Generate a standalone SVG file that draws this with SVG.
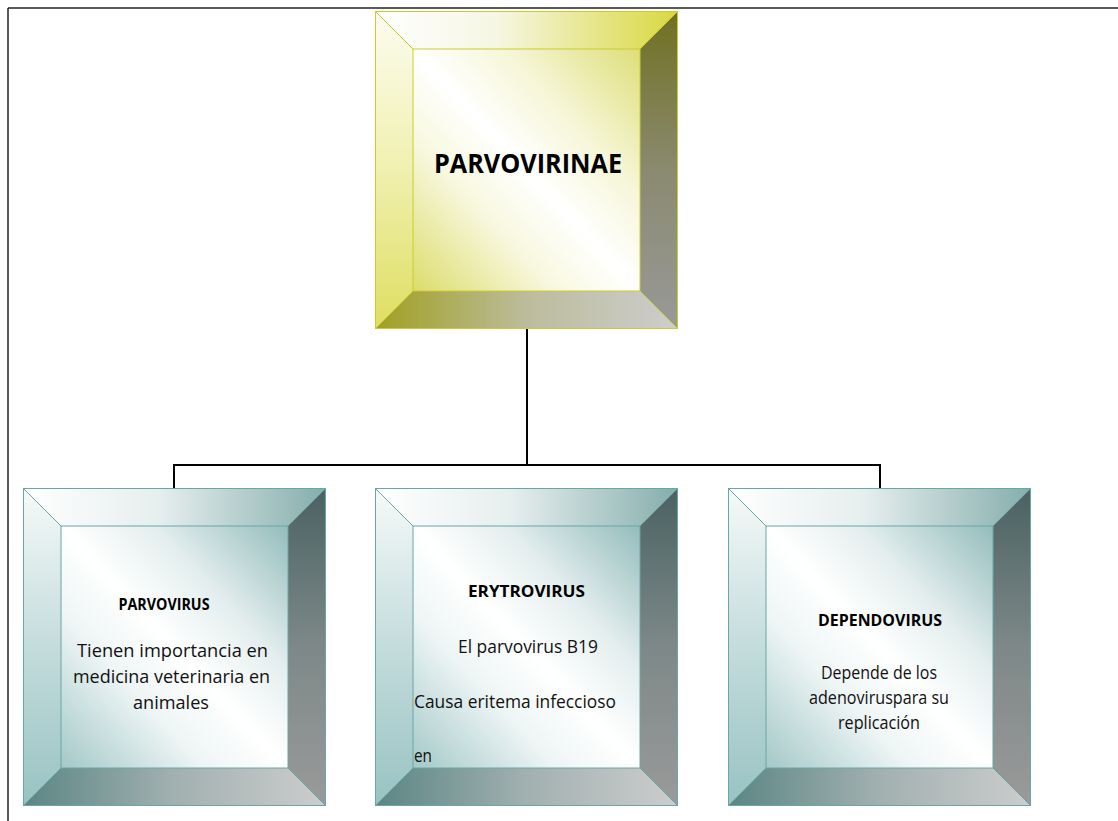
<svg xmlns="http://www.w3.org/2000/svg" xmlns:xlink="http://www.w3.org/1999/xlink" width="1118" height="821" viewBox="0 0 1118 821">
<style>
.title{font-family:"Open Sans","DejaVu Sans",sans-serif;font-weight:bold;fill:#000;text-anchor:middle}
.body{font-family:"Open Sans","DejaVu Sans",sans-serif;font-size:18px;fill:#111;text-anchor:middle}
.bodyL{font-family:"Open Sans","DejaVu Sans",sans-serif;font-size:18px;fill:#111}
.conn{stroke:#000;stroke-width:2;fill:none}
.frame{stroke:#222;stroke-width:1.5;fill:none}
.edgeT{stroke:#6aa6a6;stroke-width:1;fill:none}
.edgeY{stroke:#cccc30;stroke-width:1;fill:none}
</style>
<defs>
  <linearGradient id="gTopT" x1="0" y1="0" x2="1" y2="0"><stop offset="0" stop-color="#ffffff"/><stop offset="0.45" stop-color="#e6eeee"/><stop offset="1" stop-color="#84aeac"/></linearGradient>
  <linearGradient id="gLeftT" x1="0" y1="0" x2="0" y2="1"><stop offset="0" stop-color="#f6f9f9"/><stop offset="0.5" stop-color="#c4dcdc"/><stop offset="1" stop-color="#98c2c2"/></linearGradient>
  <linearGradient id="gRightT" x1="0" y1="0" x2="0" y2="1"><stop offset="0" stop-color="#4a6262"/><stop offset="0.5" stop-color="#7e8888"/><stop offset="1" stop-color="#9a9a9a"/></linearGradient>
  <linearGradient id="gBottomT" x1="0" y1="0" x2="1" y2="0"><stop offset="0" stop-color="#5a8684"/><stop offset="0.5" stop-color="#a2b0b0"/><stop offset="1" stop-color="#cdcdcd"/></linearGradient>
  <linearGradient id="gInnerT" x1="1" y1="0" x2="0" y2="1"><stop offset="0" stop-color="#94bcbc"/><stop offset="0.3" stop-color="#e4eeee"/><stop offset="0.5" stop-color="#ffffff"/><stop offset="0.68" stop-color="#eef5f5"/><stop offset="1" stop-color="#a4c8c8"/></linearGradient>

  <linearGradient id="gTopY" x1="0" y1="0" x2="1" y2="0"><stop offset="0" stop-color="#ffffff"/><stop offset="0.4" stop-color="#f6f6e4"/><stop offset="1" stop-color="#d8d840"/></linearGradient>
  <linearGradient id="gLeftY" x1="0" y1="0" x2="0" y2="1"><stop offset="0" stop-color="#fcfcf0"/><stop offset="0.5" stop-color="#f0f0b0"/><stop offset="1" stop-color="#dede60"/></linearGradient>
  <linearGradient id="gRightY" x1="0" y1="0" x2="0" y2="1"><stop offset="0" stop-color="#707020"/><stop offset="0.5" stop-color="#8a8a70"/><stop offset="1" stop-color="#999999"/></linearGradient>
  <linearGradient id="gBottomY" x1="0" y1="0" x2="1" y2="0"><stop offset="0" stop-color="#a0a020"/><stop offset="0.5" stop-color="#bcbc9c"/><stop offset="1" stop-color="#cdcdcd"/></linearGradient>
  <linearGradient id="gInnerY" x1="1" y1="0" x2="0" y2="1"><stop offset="0" stop-color="#dede78"/><stop offset="0.3" stop-color="#f6f6d8"/><stop offset="0.5" stop-color="#ffffff"/><stop offset="0.68" stop-color="#f8f8e0"/><stop offset="1" stop-color="#dcdc6c"/></linearGradient>

  <g id="bevel-teal">
    <polygon points="0,0 303,0 265,38 38,38" fill="url(#gTopT)"/>
    <polygon points="0,0 38,38 38,280 0,318" fill="url(#gLeftT)"/>
    <polygon points="303,0 303,318 265,280 265,38" fill="url(#gRightT)"/>
    <polygon points="0,318 38,280 265,280 303,318" fill="url(#gBottomT)"/>
    <rect x="38" y="38" width="227" height="242" fill="url(#gInnerT)"/>
    <rect x="38" y="38" width="227" height="242" class="edgeT"/>
    <path d="M0,0 L38,38 M303,0 L265,38 M0,318 L38,280 M303,318 L265,280" class="edgeT"/>
    <rect x="0.5" y="0.5" width="302" height="317" class="edgeT"/>
  </g>
  <g id="bevel-yellow">
    <polygon points="0,0 303,0 265,38 38,38" fill="url(#gTopY)"/>
    <polygon points="0,0 38,38 38,280 0,318" fill="url(#gLeftY)"/>
    <polygon points="303,0 303,318 265,280 265,38" fill="url(#gRightY)"/>
    <polygon points="0,318 38,280 265,280 303,318" fill="url(#gBottomY)"/>
    <rect x="38" y="38" width="227" height="242" fill="url(#gInnerY)"/>
    <rect x="38" y="38" width="227" height="242" class="edgeY"/>
    <path d="M0,0 L38,38 M303,0 L265,38 M0,318 L38,280 M303,318 L265,280" class="edgeY"/>
    <rect x="0.5" y="0.5" width="302" height="317" class="edgeY"/>
  </g>
</defs>

<rect x="0" y="0" width="1118" height="821" fill="#ffffff"/>

<g id="page-frame">
  <line x1="8" y1="8" x2="1118" y2="8" class="frame"/>
  <line x1="8" y1="8" x2="8" y2="821" class="frame" stroke="#555"/>
</g>

<g id="connectors">
  <line x1="527" y1="329" x2="527" y2="465" class="conn"/>
  <polyline points="174,488 174,465 880,465 880,488" class="conn"/>
</g>

<g id="node-parvovirinae">
  <use href="#bevel-yellow" x="375" y="11"/>
  <text x="528" y="173" class="title" font-size="26" textLength="188" lengthAdjust="spacingAndGlyphs">PARVOVIRINAE</text>
</g>

<g id="node-parvovirus">
  <use href="#bevel-teal" x="23" y="488"/>
  <text x="164" y="610" class="title" font-size="16" textLength="91" lengthAdjust="spacingAndGlyphs">PARVOVIRUS</text>
  <text x="172.5" y="657" class="body" textLength="191" lengthAdjust="spacingAndGlyphs">Tienen importancia en</text>
  <text x="171.5" y="683" class="body" textLength="197" lengthAdjust="spacingAndGlyphs">medicina veterinaria en</text>
  <text x="171" y="709" class="body" textLength="76" lengthAdjust="spacingAndGlyphs">animales</text>
</g>

<g id="node-erytrovirus">
  <use href="#bevel-teal" x="375" y="488"/>
  <text x="526.5" y="597" class="title" font-size="16" textLength="117" lengthAdjust="spacingAndGlyphs">ERYTROVIRUS</text>
  <text x="458" y="653" class="bodyL" textLength="140" lengthAdjust="spacingAndGlyphs">El parvovirus B19</text>
  <text x="414" y="708" class="bodyL" textLength="202" lengthAdjust="spacingAndGlyphs">Causa eritema infeccioso</text>
  <text x="414" y="762" class="bodyL" textLength="18" lengthAdjust="spacingAndGlyphs">en</text>
</g>

<g id="node-dependovirus">
  <use href="#bevel-teal" x="728" y="488"/>
  <text x="880" y="626" class="title" font-size="16" textLength="124" lengthAdjust="spacingAndGlyphs">DEPENDOVIRUS</text>
  <text x="879" y="679" class="body" textLength="116" lengthAdjust="spacingAndGlyphs">Depende de los</text>
  <text x="879" y="704" class="body" textLength="140" lengthAdjust="spacingAndGlyphs">adenoviruspara su</text>
  <text x="879" y="729" class="body" textLength="82" lengthAdjust="spacingAndGlyphs">replicación</text>
</g>
</svg>
